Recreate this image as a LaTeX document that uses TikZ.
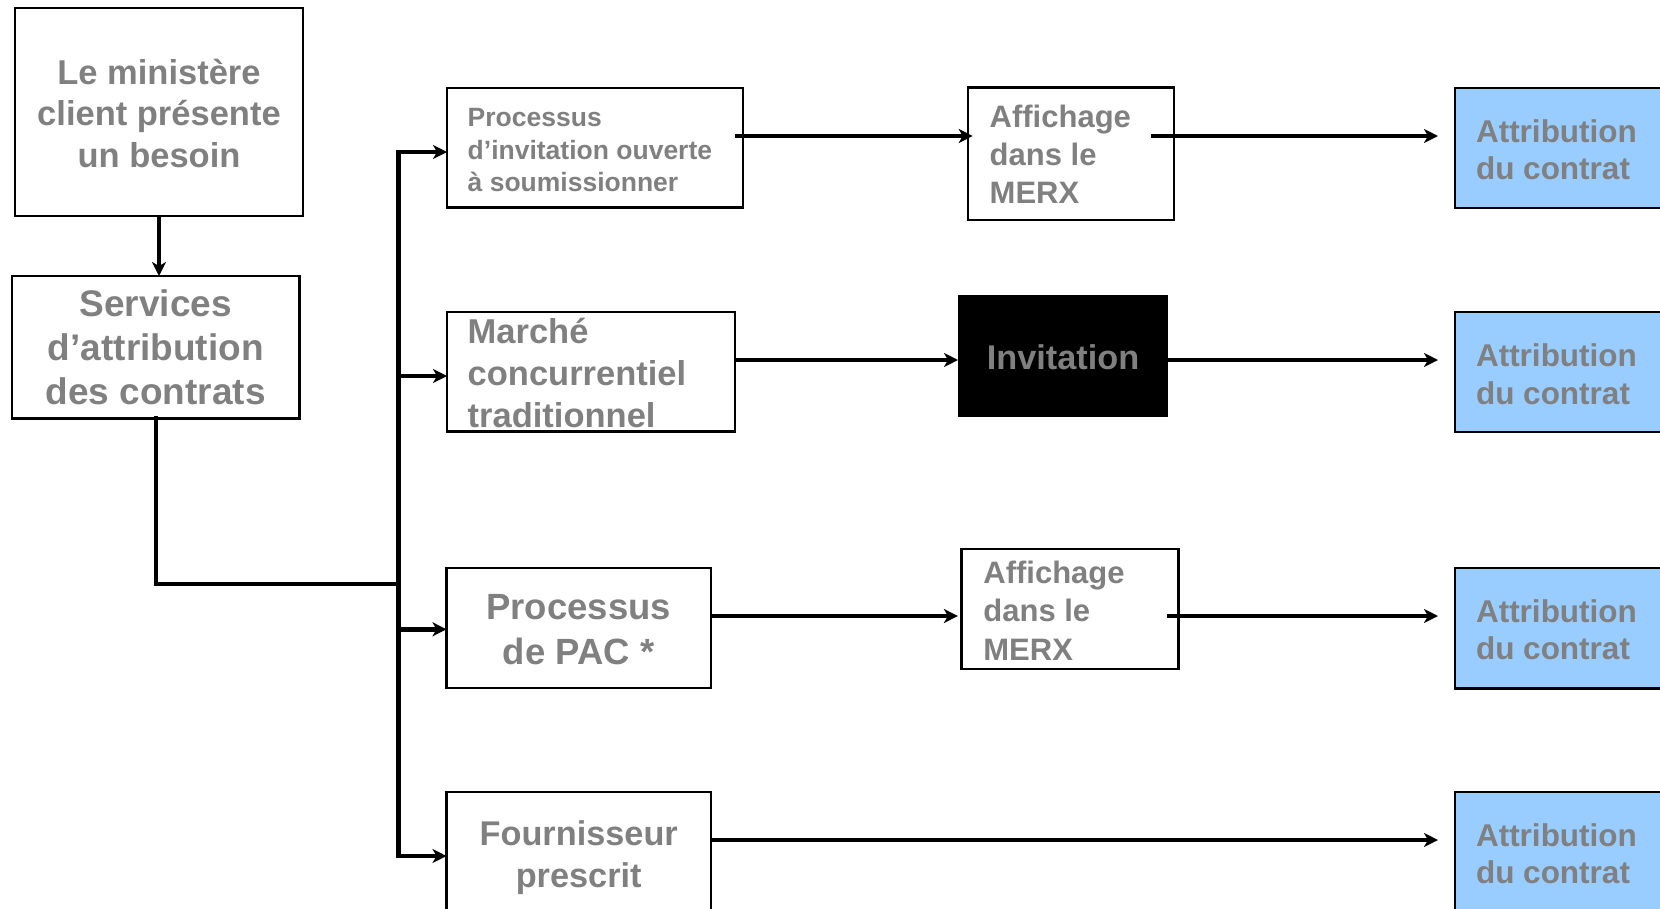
\documentclass[tikz,border=0pt]{standalone}
\usepackage{fontspec}
\setmainfont{Liberation Sans}
\usetikzlibrary{arrows.meta,calc}
\definecolor{tgray}{RGB}{128,128,128}
\definecolor{lblue}{RGB}{153,204,255}
\newcommand\myfs[2]{\fontsize{#1}{#2}\selectfont\bfseries}
\begin{document}
\begin{tikzpicture}[x=1pt,y=-1pt,
  box/.style={draw=black, line width=2.4pt, fill=white, inner sep=0pt, outer sep=0pt, anchor=north west},
  bluebox/.style={box, fill=lblue},
  blackbox/.style={fill=black, draw=none, inner sep=0pt, outer sep=0pt, anchor=north west},
  txt/.style={inner sep=0pt, outer sep=0pt, text=tgray},
  conn/.style={line width=4.6pt, draw=black, line cap=rect, line join=miter},
  arr/.style={line width=4.6pt, draw=black, -{Stealth[length=14pt,width=14pt,inset=4pt]}},
]
\useasboundingbox (0,0) rectangle (1660,908);
\clip (0,0) rectangle (1660,908);
\fill[white] (0,0) rectangle (1660,908);

% boxes
\node[box, minimum width=288, minimum height=208] (A) at (15,8) {};
\node[box, minimum width=287.6, minimum height=142.3] (B) at (12,276) {};
\node[box, minimum width=296, minimum height=119.5] (P1) at (447,88) {};
\node[box, minimum width=288, minimum height=119.5] (P2) at (447,312) {};
\node[box, minimum width=264.5, minimum height=120] (P3) at (446.5,568) {};
\node[box, minimum width=264.5, minimum height=140] (P4) at (446.5,792) {};
\node[box, minimum width=206, minimum height=132.5] (M1) at (968,87.5) {};
\node[blackbox, minimum width=210, minimum height=121.7] (Inv) at (958,295) {};
\node[box, minimum width=217, minimum height=120] (M2) at (961.5,549) {};
\node[bluebox, minimum width=230, minimum height=120] (Bl1) at (1455,87.7) {};
\node[bluebox, minimum width=230, minimum height=120] (Bl2) at (1455,311.7) {};
\node[bluebox, minimum width=230, minimum height=120.6] (Bl3) at (1455,567.7) {};
\node[bluebox, minimum width=230, minimum height=140] (Bl4) at (1455,791.7) {};

% texts
\node[txt, anchor=north, align=center, font=\myfs{34.5}{41.5}] (tA) at (159,55) {\strut Le ministère\\client présente\\un besoin};
\node[txt, anchor=north, align=center, font=\myfs{37}{44}] (tB) at (155.8,286) {\strut Services\\d’attribution\\des contrats};
\node[txt, anchor=north west, align=left, font=\myfs{26.5}{32.3}] (tP1) at (467.7,104.2) {\strut Processus\\d’invitation ouverte\\à soumissionner};
\node[txt, anchor=north west, align=left, font=\myfs{34.5}{41.8}] (tP2) at (467.7,314.5) {\strut Marché\\concurrentiel\\traditionnel};
\node[txt, anchor=north, align=center, font=\myfs{36.5}{45}] (tP3) at (578.7,588.3) {\strut Processus\\de PAC *};
\node[txt, anchor=north, align=center, font=\myfs{34.3}{42}] (tP4) at (578.7,816) {\strut Fournisseur\\prescrit};
\node[txt, anchor=north west, align=left, font=\myfs{31}{38}] (tM1) at (989.7,101.3) {\strut Affichage\\dans le\\MERX};
\node[txt, anchor=north, align=center, font=\myfs{34.3}{40}] (tInv) at (1063,341.5) {\strut Invitation};
\node[txt, anchor=north west, align=left, font=\myfs{31}{38.3}] (tM2) at (983.4,556.6) {\strut Affichage\\dans le\\MERX};
\node[txt, anchor=north west, align=left, font=\myfs{31.5}{37.8}] (tBl1) at (1476,115.6) {\strut Attribution\\du contrat};
\node[txt, anchor=north west, align=left, font=\myfs{31.5}{37.8}] (tBl2) at (1476,339.9) {\strut Attribution\\du contrat};
\node[txt, anchor=north west, align=left, font=\myfs{31.5}{37.8}] (tBl3) at (1476,595.6) {\strut Attribution\\du contrat};
\node[txt, anchor=north west, align=left, font=\myfs{31.5}{37.8}] (tBl4) at (1476,819.6) {\strut Attribution\\du contrat};

% bus coordinates
\coordinate (b1) at (398.4,152);
\coordinate (b2) at (398.4,376);
\coordinate (b3) at (398.4,629.3);
\coordinate (b4) at (398.4,856);
\coordinate (bj) at (398.4,584);
\coordinate (r1) at (0,136);
\coordinate (r2) at (0,360);
\coordinate (r3) at (0,616);
\coordinate (r4) at (0,840);

% connectors
\draw[arr] (A.south) -- (A.south |- B.north);
\draw[conn] (B.south) |- (bj);
\draw[conn] (b1) -- (b4);
\draw[arr] (b1) -- (b1 -| P1.west);
\draw[arr] (b2) -- (b2 -| P2.west);
\draw[arr] (b3) -- (b3 -| P3.west);
\draw[arr] (b4) -- (b4 -| P4.west);

\draw[arr] ($(P1.east |- r1)+(-8,0)$) -- ($(M1.west |- r1)+(4.7,0)$);
\draw[arr] ($(M1.east |- r1)+(-23,0)$) -- ($(Bl1.west |- r1)+(-17,0)$);
\draw[arr] (P2.east |- r2) -- (Inv.west |- r2);
\draw[arr] (Inv.east |- r2) -- ($(Bl2.west |- r2)+(-17,0)$);
\draw[arr] (P3.east |- r3) -- ($(M2.west |- r3)+(-3.6,0)$);
\draw[arr] ($(M2.east |- r3)+(-11.7,0)$) -- ($(Bl3.west |- r3)+(-17,0)$);
\draw[arr] (P4.east |- r4) -- ($(Bl4.west |- r4)+(-17,0)$);
\end{tikzpicture}
\end{document}
